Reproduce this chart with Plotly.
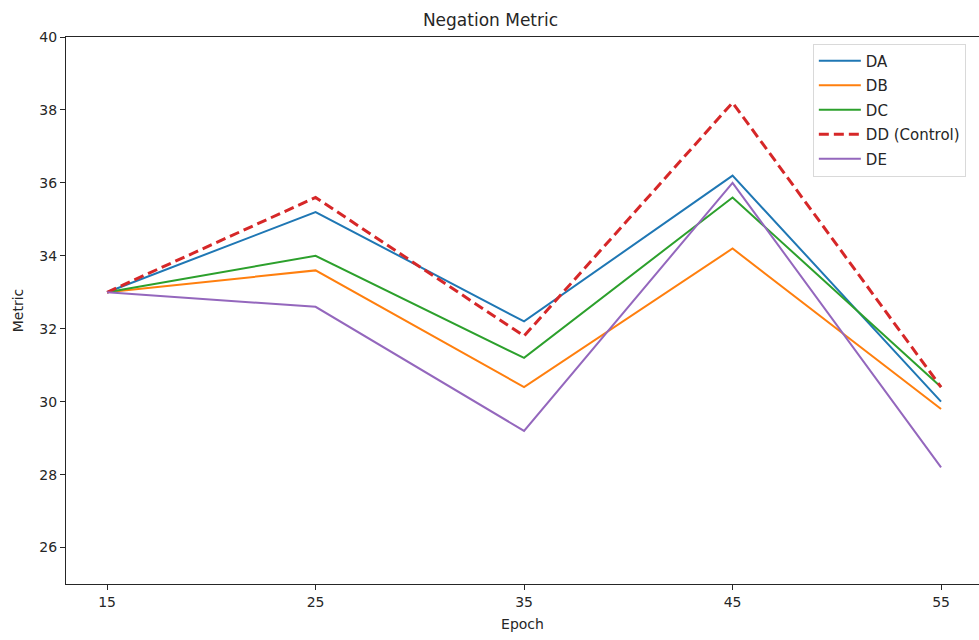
import plotly.graph_objects as go

epochs = [15, 25, 35, 45, 55]
da = [33.0, 35.2, 32.2, 36.2, 30.0]
db = [33.0, 33.6, 30.4, 34.2, 29.8]
dc = [33.0, 34.0, 31.2, 35.6, 30.4]
dd = [33.0, 35.6, 31.8, 38.2, 30.4]
de = [33.0, 32.6, 29.2, 36.0, 28.2]

names = ["DA", "DB", "DC", "DD (Control)", "DE"]
series = [da, db, dc, dd, de]
colors = ["#1f77b4", "#ff7f0e", "#2ca02c", "#d62728", "#9467bd"]
dashes = ["solid", "solid", "solid", "10px,5px", "solid"]
widths = [2, 2, 2, 3, 2]

fig = go.Figure()
for n, s, c, d, w in zip(names, series, colors, dashes, widths):
    fig.add_trace(go.Scatter(x=epochs, y=s, mode="lines", name=n, legendgroup=n,
                             line=dict(color=c, width=w, dash=d)))

font = "DejaVu Sans, sans-serif"
fig.update_layout(
    width=979, height=640,
    margin=dict(l=66, r=0, t=37, b=56),
    paper_bgcolor="white", plot_bgcolor="white",
    font=dict(family=font, size=14, color="#262626"),
    title=dict(text="Negation Metric", x=0.501, xanchor="center", y=0.968, yanchor="middle",
               font=dict(size=17, color="#262626")),
    showlegend=True,
    legend=dict(x=0.818, y=0.988, xanchor="left", yanchor="top",
                bgcolor="rgba(255,255,255,0.8)", bordercolor="#d9d9d9", borderwidth=1,
                font=dict(size=15), tracegroupgap=2, itemwidth=42),
    xaxis=dict(range=[13.03, 56.82], tickvals=epochs, ticks="outside", ticklen=5,
               tickcolor="#262626", tickfont=dict(size=14), showgrid=False, zeroline=False,
               showline=True, linecolor="#262626", linewidth=1.2, mirror=True,
               title=dict(text="Epoch", standoff=10, font=dict(size=14))),
    yaxis=dict(range=[25, 40], tickvals=[26, 28, 30, 32, 34, 36, 38, 40], ticks="outside",
               ticklen=5, tickcolor="#262626", tickfont=dict(size=14), showgrid=False,
               zeroline=False, showline=True, linecolor="#262626", linewidth=1.2, mirror=False,
               title=dict(text="Metric", standoff=12, font=dict(size=14))),
)
fig.write_html("out.html")
